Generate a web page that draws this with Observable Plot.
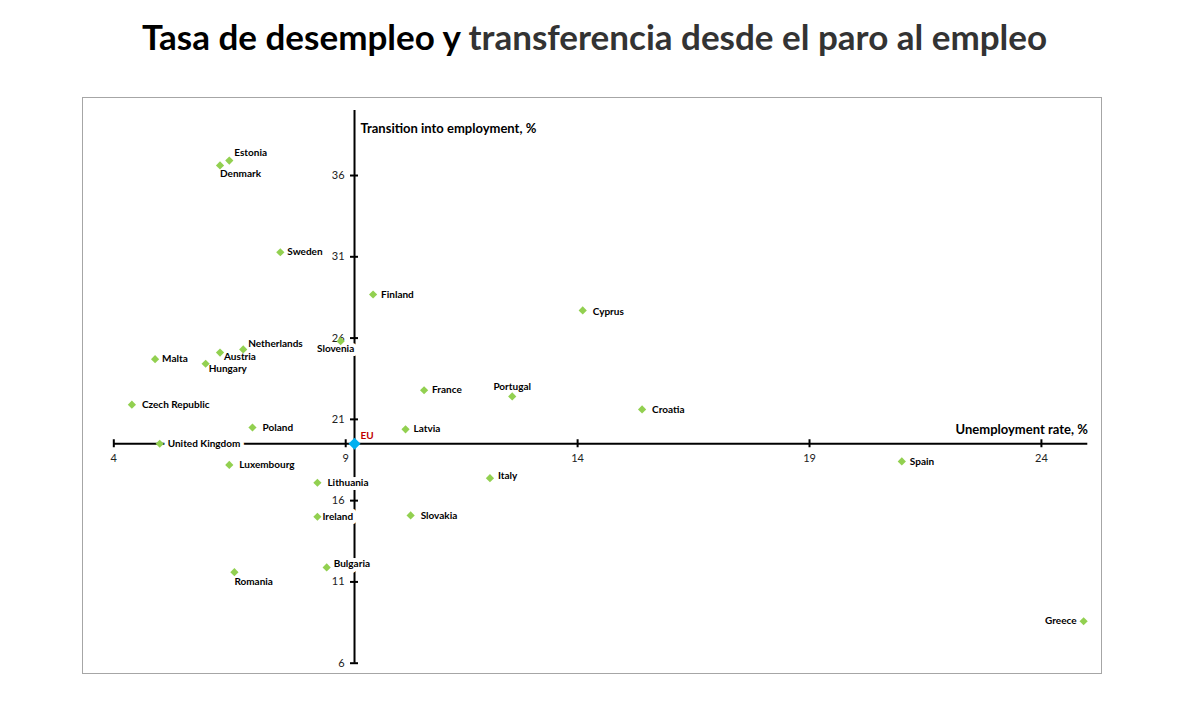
<!DOCTYPE html>
<html>
<head>
<meta charset="utf-8">
<script src="https://cdn.jsdelivr.net/npm/d3@7"></script>
<script src="https://cdn.jsdelivr.net/npm/@observablehq/plot@0.6"></script>
<style>
  html, body { margin: 0; padding: 0; background: #fff; }
  #wrap { position: relative; width: 1203px; height: 716px; overflow: hidden; }
  #title { position: absolute; left: -7px; top: 13px; width: 1203px; text-align: center;
           font-family: Lato, "Open Sans", sans-serif; font-weight: 700; font-size: 35px; line-height: 46px; }
  #title .a { color: #000; }
  #title .b { color: #333; }
  #frame { position: absolute; left: 82px; top: 97px; width: 1018px; height: 575px;
           border: 1px solid #a6a6a6; pointer-events: none; }
  #chart { position: absolute; left: 0; top: 80px; }
</style>
</head>
<body>
<div id="wrap">
  <div id="title"><span class="a">Tasa de desempleo y</span> <span class="b">transferencia desde el paro al empleo</span></div>
  <div id="frame"></div>
  <div id="chart"></div>
</div>
<script>
// ---- data ----
const countries = ["Estonia","Denmark","Sweden","Finland","Netherlands","Slovenia","Austria","Malta","Hungary",
  "France","Czech Republic","Poland","Latvia","United Kingdom","Luxembourg","Lithuania","Ireland","Slovakia",
  "Bulgaria","Romania","Cyprus","Portugal","Croatia","Italy","Spain","Greece"];
const unemployment = [6.49,6.29,7.59,9.59,6.79,8.89,6.29,4.89,5.98,
  10.69,4.39,6.99,10.29,4.99,6.49,8.39,8.39,10.40,
  8.59,6.60,14.11,12.59,15.39,12.11,20.99,24.91];
const transition = [36.92,36.62,31.28,28.68,25.30,25.81,25.11,24.70,24.42,
  22.79,21.90,20.50,20.39,19.50,18.20,17.10,15.01,15.09,
  11.89,11.60,27.70,22.41,21.61,17.38,18.41,8.58];
const euLabel = "EU";
const euUnemployment = 9.19;
const euTransition = 19.50;
const xTicks = [4, 9, 14, 19, 24];
const yTicks = [6, 11, 16, 21, 26, 31, 36];
const xDomain = [4, 25];
const yDomain = [6, 40];
const xTitle = "Unemployment rate, %";
const yTitle = "Transition into employment, %";

// ---- label placement (style config) ----
const place = {
  "Estonia": [5, -8, "start"], "Denmark": [0, 8, "start"], "Sweden": [7, 0, "start"],
  "Finland": [8, 0, "start"], "Netherlands": [5, -6, "start"], "Slovenia": [-5, 8, "middle"],
  "Austria": [4, 4, "start"], "Malta": [7, 0, "start"], "Hungary": [3, 5, "start"],
  "France": [8, 0, "start"], "Czech Republic": [10, 0, "start"], "Poland": [10, 0, "start"],
  "Latvia": [8, 0, "start"], "United Kingdom": [8, 0, "start"], "Luxembourg": [10, 0, "start"],
  "Lithuania": [10, 0, "start"], "Ireland": [5, 0, "start"], "Slovakia": [10, 0, "start"],
  "Bulgaria": [7, -4, "start"], "Romania": [0, 10, "start"], "Cyprus": [10, 1, "start"],
  "Portugal": [0, -10, "middle"], "Croatia": [10, 0, "start"], "Italy": [8, -2, "start"],
  "Spain": [8, 0, "start"], "Greece": [-7, 0, "end"]
};

const rows = countries.map((c, i) => ({name: c, x: unemployment[i], y: transition[i],
  dx: place[c][0], dy: place[c][1], anchor: place[c][2]}));

const font = "Lato, 'Open Sans', sans-serif";

// one text mark per label so each gets its own offset
const labels = rows.map(r => Plot.text([r], {
  x: "x", y: "y", text: "name", textAnchor: r.anchor, dx: r.dx, dy: r.dy,
  fontSize: 10, fontWeight: 700, fill: "#000", stroke: "#fff", strokeWidth: 8,
  fontFamily: font
}));

const chart = Plot.plot({
  width: 1203,
  height: 636,
  marginLeft: 113.3,
  marginRight: 115.7,
  marginTop: 30,
  marginBottom: 53.3,
  x: {domain: xDomain, axis: null},
  y: {domain: yDomain, axis: null},
  style: {fontFamily: font, background: "transparent", overflow: "visible"},
  marks: [
    // axes lines
    Plot.ruleY([euTransition], {x1: xDomain[0], x2: xDomain[1], stroke: "#000", strokeWidth: 2}),
    Plot.ruleX([euUnemployment], {y1: yDomain[0], y2: yDomain[1], stroke: "#000", strokeWidth: 2}),
    // ticks
    Plot.ruleX(xTicks, {x: d => d, y1: euTransition, y2: euTransition, insetTop: -4, insetBottom: -4, stroke: "#000", strokeWidth: 2}),
    Plot.ruleY(yTicks, {y: d => d, x1: euUnemployment, x2: euUnemployment, insetLeft: -4, insetRight: -4, stroke: "#000", strokeWidth: 2}),
    // tick labels
    Plot.text(xTicks, {x: d => d, y: euTransition, dy: 15, text: d => String(d), fontSize: 11, fill: "#222", fontFamily: font}),
    Plot.text(yTicks, {x: euUnemployment, y: d => d, dx: -10, textAnchor: "end", text: d => String(d), fontSize: 11, fill: "#222", fontFamily: font}),
    // axis titles
    Plot.text([yTitle], {x: euUnemployment, y: yDomain[1], dx: 6, dy: 18, textAnchor: "start", text: d => d, fontSize: 13, fontWeight: 700, fill: "#000", fontFamily: font}),
    Plot.text([xTitle], {x: xDomain[1], y: euTransition, dy: -14, textAnchor: "end", text: d => d, fontSize: 13, fontWeight: 700, fill: "#000", fontFamily: font}),
    // labels (white halo hides axes below them)
    ...labels,
    // markers
    Plot.dot(rows, {x: "x", y: "y", symbol: "diamond2", r: 3.7, fill: "#92d050", stroke: "none"}),
    Plot.dot([{x: euUnemployment, y: euTransition}], {x: "x", y: "y", symbol: "diamond2", r: 5.4, fill: "#00b0f0", stroke: "none"}),
    Plot.text([euLabel], {x: euUnemployment, y: euTransition, dx: 6, dy: -8, textAnchor: "start", text: d => d, fontSize: 10, fontWeight: 700, fill: "#c00000", fontFamily: font})
  ]
});
document.getElementById("chart").appendChild(chart);
</script>
</body>
</html>
